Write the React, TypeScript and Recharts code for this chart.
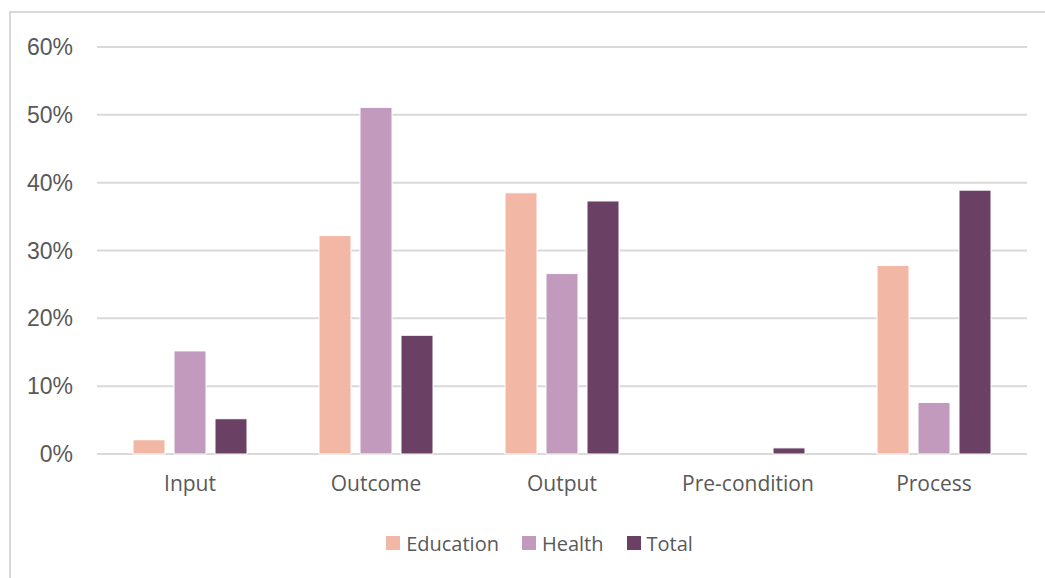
import React from 'react';
import { BarChart, Bar, XAxis, YAxis, CartesianGrid, Legend } from 'recharts';

// share of indicators by type, in percent
const categories = ['Input', 'Outcome', 'Output', 'Pre-condition', 'Process'];
const education = [2.1, 32.2, 38.5, 0, 27.8];
const health = [15.2, 51.1, 26.6, 0, 7.6];
const total = [5.2, 17.5, 37.3, 0.9, 38.9];
const yTicks = [0, 10, 20, 30, 40, 50, 60];

const data = categories.map((name, i) => ({
  name,
  education: education[i],
  health: health[i],
  total: total[i]
}));

const TEXT = '#595959';
const GRID = '#d9d9d9';

function LegendRow(props: any) {
  const items = props.payload || [];
  return (
    <div
      style={{
        display: 'flex',
        justifyContent: 'center',
        alignItems: 'center',
        height: 40,
        paddingLeft: 34,
        boxSizing: 'border-box',
        fontFamily: '"Open Sans", sans-serif',
        fontSize: 20,
        color: TEXT
      }}
    >
      {items.map((it: any, i: number) => (
        <div
          key={it.value}
          style={{ display: 'flex', alignItems: 'center', marginLeft: i ? 23 : 0 }}
        >
          <span style={{ width: 14, height: 14, background: it.color, marginRight: 6 }} />
          <span>{it.value}</span>
        </div>
      ))}
    </div>
  );
}

export default function App() {
  return (
    <div
      style={{
        position: 'fixed',
        left: 0,
        top: 0,
        width: 1045,
        height: 578,
        overflow: 'hidden',
        background: '#fff'
      }}
    >
      <div
        style={{
          position: 'absolute',
          left: 9,
          top: 11,
          width: 1100,
          height: 700,
          border: `2px solid ${GRID}`
        }}
      />
      <div style={{ position: 'absolute', left: 0, top: 0 }}>
        <BarChart
          width={1045}
          height={578}
          data={data}
          margin={{ top: 47, right: 18, left: 0, bottom: 44 }}
          barSize={32}
          barGap={9}
        >
          <CartesianGrid vertical={false} stroke={GRID} strokeWidth={2} />
          <XAxis
            dataKey="name"
            height={40}
            axisLine={false}
            tickLine={false}
            tickSize={0}
            tickMargin={22}
            tick={{ fill: TEXT, fontSize: 21, fontFamily: '"Open Sans", sans-serif' }}
          />
          <YAxis
            width={97}
            domain={[0, 60]}
            ticks={yTicks}
            tickFormatter={(v: number) => `${v}%`}
            axisLine={false}
            tickLine={false}
            tickSize={0}
            tickMargin={24}
            tick={{ fill: TEXT, fontSize: 23, fontFamily: '"Liberation Sans", Arial, sans-serif' }}
          />
          <Legend
            verticalAlign="bottom"
            content={LegendRow}
            wrapperStyle={{ left: 0, width: 1045, top: 523, bottom: 'auto' }}
          />
          <Bar dataKey="education" name="Education" fill="#F3B8A5" stroke="#fff" strokeWidth={1} isAnimationActive={false} />
          <Bar dataKey="health" name="Health" fill="#C19ABD" stroke="#fff" strokeWidth={1} isAnimationActive={false} />
          <Bar dataKey="total" name="Total" fill="#6A4065" stroke="#fff" strokeWidth={1} isAnimationActive={false} />
        </BarChart>
      </div>
    </div>
  );
}
